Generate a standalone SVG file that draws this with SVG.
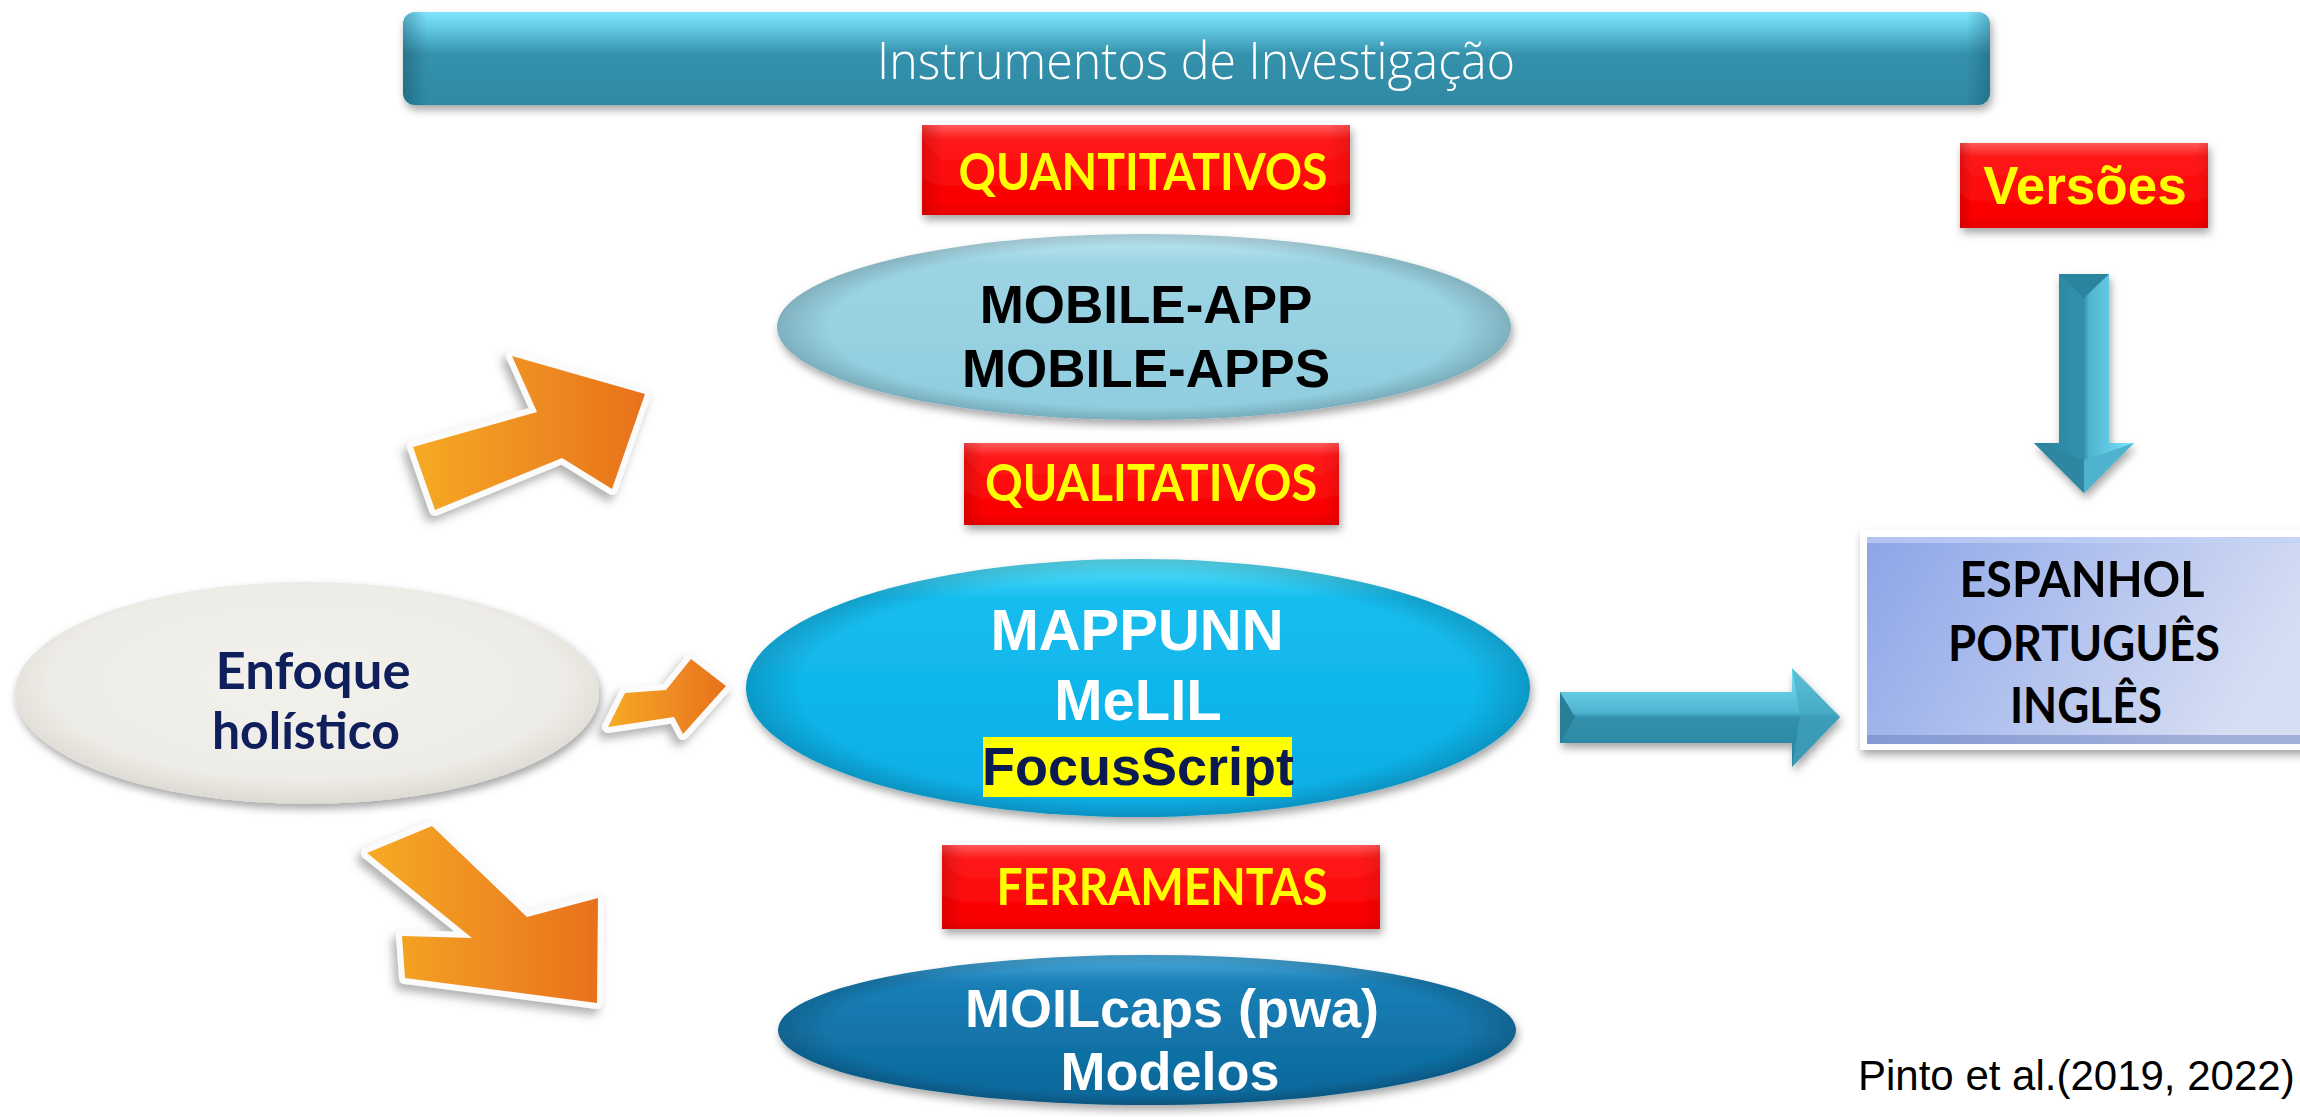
<svg xmlns="http://www.w3.org/2000/svg" width="2300" height="1117" viewBox="0 0 2300 1117">
<defs>
<style>
.cal{font-family:Lato,"Open Sans","Liberation Sans",sans-serif;font-weight:700;text-anchor:middle}
.ari{font-family:"Liberation Sans",Arial,sans-serif;font-weight:700;text-anchor:middle}
.lbl{fill:#ffff00;font-size:51px}
.orng{fill:url(#orange);stroke:#fbfbfb;stroke-width:12;stroke-linejoin:round;paint-order:stroke;filter:url(#sh2)}
</style>
<filter id="sh" x="-10%" y="-20%" width="125%" height="150%"><feDropShadow dx="2" dy="5" stdDeviation="4" flood-color="#000" flood-opacity="0.35"/></filter>
<filter id="sh2" x="-20%" y="-20%" width="150%" height="150%"><feDropShadow dx="-4" dy="6" stdDeviation="5" flood-color="#555" flood-opacity="0.45"/></filter>
<linearGradient id="barV" x1="0" y1="0" x2="0" y2="1">
<stop offset="0" stop-color="#7fe6fd"/><stop offset="0.18" stop-color="#62c8e2"/><stop offset="0.45" stop-color="#3591ac"/><stop offset="1" stop-color="#2f89a3"/>
</linearGradient>
<linearGradient id="edgeH" x1="0" y1="0" x2="1" y2="0">
<stop offset="0" stop-color="#0b3f52" stop-opacity="0.35"/><stop offset="0.015" stop-color="#0b3f52" stop-opacity="0"/><stop offset="0.985" stop-color="#0b3f52" stop-opacity="0"/><stop offset="1" stop-color="#0b3f52" stop-opacity="0.3"/>
</linearGradient>
<linearGradient id="redV" x1="0" y1="0" x2="0" y2="1">
<stop offset="0" stop-color="#ff5a5a"/><stop offset="0.16" stop-color="#ff1a1a"/><stop offset="0.85" stop-color="#fb0000"/><stop offset="1" stop-color="#e80000"/>
</linearGradient>
<linearGradient id="redH" x1="0" y1="0" x2="1" y2="0">
<stop offset="0" stop-color="#a00000" stop-opacity="0.35"/><stop offset="0.05" stop-color="#a00000" stop-opacity="0"/><stop offset="0.95" stop-color="#a00000" stop-opacity="0"/><stop offset="1" stop-color="#a00000" stop-opacity="0.2"/>
</linearGradient>
<linearGradient id="gMob" x1="0" y1="0" x2="0" y2="1">
<stop offset="0" stop-color="#c2ebf5"/><stop offset="0.15" stop-color="#9dd4e4"/><stop offset="1" stop-color="#8fcddf"/>
</linearGradient>
<linearGradient id="gMap" x1="0" y1="0" x2="0" y2="1">
<stop offset="0" stop-color="#5fe6fb"/><stop offset="0.15" stop-color="#16bdef"/><stop offset="1" stop-color="#08ade6"/>
</linearGradient>
<linearGradient id="gMoi" x1="0" y1="0" x2="0" y2="1">
<stop offset="0" stop-color="#4fb0e0"/><stop offset="0.18" stop-color="#1a7fb6"/><stop offset="1" stop-color="#0a6598"/>
</linearGradient>
<radialGradient id="gEnf" cx="0.5" cy="0.45" r="0.55">
<stop offset="0" stop-color="#f2f1ec"/><stop offset="0.8" stop-color="#eeece6"/><stop offset="1" stop-color="#dcdad3"/>
</radialGradient>
<radialGradient id="rim" cx="0.5" cy="0.5" r="0.5">
<stop offset="0.86" stop-color="#000" stop-opacity="0"/><stop offset="1" stop-color="#000" stop-opacity="0.16"/>
</radialGradient>
<linearGradient id="orange" x1="0" y1="0" x2="1" y2="0">
<stop offset="0" stop-color="#f6aa25"/><stop offset="1" stop-color="#e8711d"/>
</linearGradient>
<linearGradient id="blueR" x1="0" y1="0" x2="0" y2="1">
<stop offset="0" stop-color="#7ee6fc"/><stop offset="0.45" stop-color="#4eb3cf"/><stop offset="0.5" stop-color="#3190aa"/><stop offset="1" stop-color="#2b849e"/>
</linearGradient>
<linearGradient id="blueD" x1="0" y1="0" x2="1" y2="0">
<stop offset="0" stop-color="#2b849e"/><stop offset="0.5" stop-color="#3190aa"/><stop offset="0.55" stop-color="#4eb3cf"/><stop offset="1" stop-color="#7ee6fc"/>
</linearGradient>
<linearGradient id="gLang" x1="0" y1="0" x2="1" y2="0.3">
<stop offset="0" stop-color="#8ca5e8"/><stop offset="1" stop-color="#d5ddf3"/>
</linearGradient>
</defs>
<rect width="2300" height="1117" fill="#ffffff"/>

<g id="header" filter="url(#sh)">
<rect x="403" y="12" width="1587" height="93" rx="12" fill="url(#barV)"/>
<rect x="403" y="12" width="1587" height="93" rx="12" fill="url(#edgeH)"/>
<text x="1196" y="79" font-family="'Open Sans','Liberation Sans',sans-serif" font-weight="300" font-size="51" fill="#ffffff" text-anchor="middle" textLength="638" lengthAdjust="spacingAndGlyphs">Instrumentos de Investigação</text>
</g>

<g id="label-quantitativos">
<g filter="url(#sh)"><rect x="922" y="125" width="428" height="90" fill="url(#redV)"/><rect x="922" y="125" width="428" height="90" fill="url(#redH)"/></g>
<text class="cal lbl" x="1143" y="190" textLength="369" lengthAdjust="spacingAndGlyphs">QUANTITATIVOS</text>
</g>

<g id="label-qualitativos">
<g filter="url(#sh)"><rect x="964" y="443" width="375" height="82" fill="url(#redV)"/><rect x="964" y="443" width="375" height="82" fill="url(#redH)"/></g>
<text class="cal lbl" x="1151" y="501" textLength="332" lengthAdjust="spacingAndGlyphs">QUALITATIVOS</text>
</g>

<g id="label-ferramentas">
<g filter="url(#sh)"><rect x="942" y="845" width="438" height="84" fill="url(#redV)"/><rect x="942" y="845" width="438" height="84" fill="url(#redH)"/></g>
<text class="cal lbl" x="1162" y="905" textLength="331" lengthAdjust="spacingAndGlyphs">FERRAMENTAS</text>
</g>

<g id="label-versoes">
<g filter="url(#sh)"><rect x="1960" y="143" width="248" height="85" fill="url(#redV)"/><rect x="1960" y="143" width="248" height="85" fill="url(#redH)"/></g>
<text class="ari" x="2085" y="204" font-size="53" fill="#ffff00">Versões</text>
</g>

<g id="node-mobile">
<ellipse cx="1144" cy="327" rx="367" ry="93" fill="url(#gMob)" filter="url(#sh)"/>
<ellipse cx="1144" cy="327" rx="367" ry="93" fill="url(#rim)"/>
<text class="ari" x="1146" y="323" font-size="53" fill="#000">MOBILE-APP</text>
<text class="ari" x="1146" y="387" font-size="53" fill="#000">MOBILE-APPS</text>
</g>

<g id="node-mappunn">
<ellipse cx="1138" cy="688" rx="392" ry="129" fill="url(#gMap)" filter="url(#sh)"/>
<ellipse cx="1138" cy="688" rx="392" ry="129" fill="url(#rim)"/>
<text class="ari" x="1137" y="650" font-size="58" fill="#ffffff">MAPPUNN</text>
<text class="ari" x="1138" y="720" font-size="58" fill="#ffffff">MeLIL</text>
<rect x="983" y="737" width="309" height="60" fill="#ffff00"/>
<text class="ari" x="1138" y="785" font-size="54" fill="#0c1a52">FocusScript</text>
</g>

<g id="node-moilcaps">
<ellipse cx="1147" cy="1030" rx="369" ry="75" fill="url(#gMoi)" filter="url(#sh)"/>
<ellipse cx="1147" cy="1030" rx="369" ry="75" fill="url(#rim)"/>
<text class="ari" x="1172" y="1027" font-size="54" fill="#ffffff">MOILcaps (pwa)</text>
<text class="ari" x="1170" y="1090" font-size="54" fill="#ffffff">Modelos</text>
</g>

<g id="node-enfoque">
<ellipse cx="307" cy="693" rx="292" ry="111" fill="url(#gEnf)" filter="url(#sh)"/>
<text class="cal" x="313" y="689" font-size="51" fill="#0f1f5c" textLength="195" lengthAdjust="spacingAndGlyphs">Enfoque</text>
<text class="cal" x="306" y="749" font-size="51" fill="#0f1f5c" textLength="188" lengthAdjust="spacingAndGlyphs">holístico</text>
</g>

<g id="node-idiomas">
<rect x="1860" y="530" width="460" height="220" fill="#ffffff" filter="url(#sh)"/>
<rect x="1867" y="537" width="440" height="207" fill="url(#gLang)"/>
<rect x="1867" y="735" width="440" height="9" fill="#6478b8" opacity="0.45"/>
<rect x="1867" y="537" width="440" height="6" fill="#c3d1f7" opacity="0.7"/>
<text class="cal" x="2082" y="597" font-size="50" fill="#000" textLength="245" lengthAdjust="spacingAndGlyphs">ESPANHOL</text>
<text class="cal" x="2084" y="661" font-size="50" fill="#000" textLength="272" lengthAdjust="spacingAndGlyphs">PORTUGUÊS</text>
<text class="cal" x="2086" y="723" font-size="50" fill="#000" textLength="152" lengthAdjust="spacingAndGlyphs">INGLÊS</text>
</g>

<g id="connectors">
<polygon class="orng" points="413,447 537,412 512,356 645,394 612,489 562,458 435,510"/>
<polygon class="orng" points="432,826 527,917 598,898 597,1003 405,978 402,936 472,938 367,853"/>
<polygon class="orng" points="625,693 666,690 691,659 726,686 683,734 674,717 608,727"/>
<g filter="url(#sh)">
<polygon points="1560,692 1792,692 1792,668 1840,717 1792,767 1792,743 1560,743" fill="url(#blueR)"/>
<polygon points="1560,692 1575,717 1560,743" fill="#2a7f98"/>
<polygon points="1792,668 1840,717 1792,767 1800,717" fill="#44a6c2" opacity="0.6"/>
</g>
<g filter="url(#sh)">
<polygon points="2059,274 2109,274 2109,443 2134,443 2084,493 2034,443 2059,443" fill="url(#blueD)"/>
<polygon points="2059,274 2109,274 2084,298" fill="#2b849e"/>
<polygon points="2034,443 2084,493 2084,460" fill="#2d86a0"/>
<polygon points="2134,443 2084,493 2084,460" fill="#4fb3cf"/>
</g>
</g>

<g id="citation">
<text x="1858" y="1090" font-family="'Liberation Sans',Arial,sans-serif" font-size="42" fill="#000">Pinto et al.(2019, 2022)</text>
</g>
</svg>
